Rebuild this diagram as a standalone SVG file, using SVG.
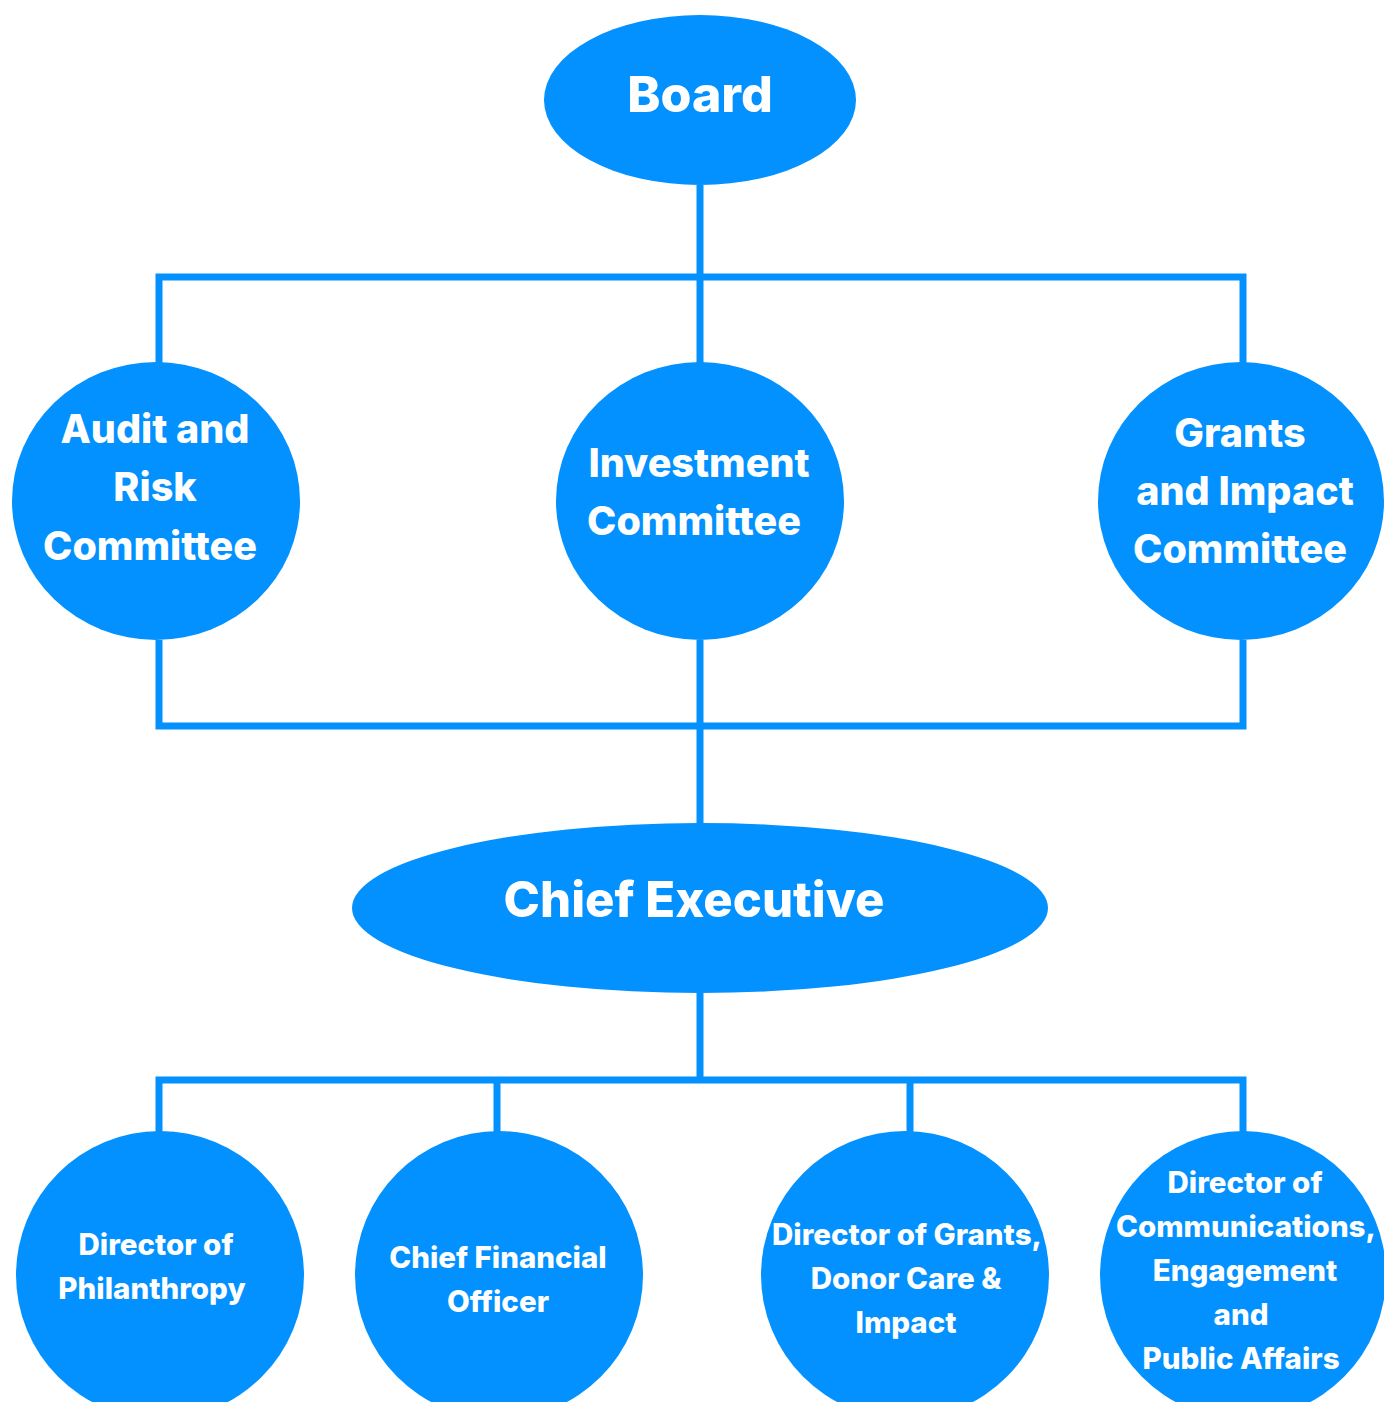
<svg xmlns="http://www.w3.org/2000/svg" width="1384" height="1402" viewBox="0 0 1384 1402">
<style>
.n{fill:#0291FE}
.c{fill:none;stroke:#0291FE;stroke-width:7}
text{fill:#fff;font-family:Inter,"Open Sans","Liberation Sans",sans-serif;font-weight:800;text-anchor:middle}
.t1{font-size:49px}
.t2{font-size:39.5px}
.t3{font-size:29.5px}
</style>
<rect width="1384" height="1402" fill="#fff"/>
<g id="connectors">
<path class="c" d="M700 185V363M159 363V277H1243V363"/>
<path class="c" d="M159 640V726H1243V640M700 640V825"/>
<path class="c" d="M700 993V1080M159 1132V1080H1243V1132M497 1080V1132M910 1080V1132"/>
</g>
<g id="board"><ellipse class="n" cx="700" cy="100" rx="156" ry="85"/><text class="t1" x="700" y="112" style="font-size:50px">Board</text></g>
<g id="audit"><ellipse class="n" cx="156" cy="501" rx="144" ry="139"/><text class="t2" x="155"><tspan x="155" y="443">Audit and</tspan><tspan x="155" y="501">Risk</tspan><tspan x="150" y="560">Committee</tspan></text></g>
<g id="investment"><ellipse class="n" cx="700" cy="501" rx="144" ry="139"/><text class="t2"><tspan x="699" y="477">Investment</tspan><tspan x="694" y="535">Committee</tspan></text></g>
<g id="grants"><ellipse class="n" cx="1241" cy="501" rx="143" ry="139"/><text class="t2"><tspan x="1240" y="447">Grants</tspan><tspan x="1245" y="505">and Impact</tspan><tspan x="1240" y="563">Committee</tspan></text></g>
<g id="ceo"><ellipse class="n" cx="700" cy="908" rx="348" ry="85"/><text class="t1" x="694" y="917">Chief Executive</text></g>
<g id="philanthropy"><ellipse class="n" cx="160" cy="1275" rx="144" ry="144"/><text class="t3"><tspan x="156" y="1255">Director of</tspan><tspan x="152" y="1299">Philanthropy</tspan></text></g>
<g id="cfo"><ellipse class="n" cx="499" cy="1275" rx="144" ry="144"/><text class="t3"><tspan x="498" y="1268">Chief Financial</tspan><tspan x="498" y="1312">Officer</tspan></text></g>
<g id="grants-director"><ellipse class="n" cx="905" cy="1275" rx="144" ry="144"/><text class="t3"><tspan x="907" y="1245">Director of Grants,</tspan><tspan x="906" y="1289">Donor Care &amp;</tspan><tspan x="906" y="1333">Impact</tspan></text></g>
<g id="comms"><ellipse class="n" cx="1243" cy="1275" rx="143" ry="144"/><text class="t3"><tspan x="1245" y="1193">Director of</tspan><tspan x="1246" y="1237">Communications,</tspan><tspan x="1245" y="1281">Engagement</tspan><tspan x="1241" y="1325">and</tspan><tspan x="1241" y="1369">Public Affairs</tspan></text></g>
</svg>
